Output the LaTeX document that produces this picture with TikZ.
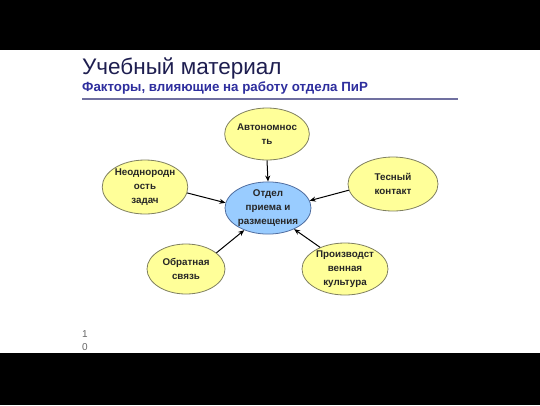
\documentclass[tikz,border=0pt]{standalone}
\usepackage{fontspec}
\setmainfont{Liberation Sans}
\usepackage{xcolor}
\usetikzlibrary{shapes.geometric,arrows.meta}

\definecolor{titlenavy}{RGB}{30,30,80}
\definecolor{subblue}{RGB}{46,46,158}
\definecolor{rulegray}{RGB}{112,112,160}
\definecolor{factorfill}{RGB}{255,255,153}
\definecolor{factorline}{RGB}{128,128,96}
\definecolor{centerfill}{RGB}{153,204,255}
\definecolor{centerline}{RGB}{80,110,160}

\tikzset{
  factor/.style={ellipse,draw=factorline,fill=factorfill,line width=0.8pt,inner sep=0pt,
    minimum width=82pt,minimum height=52pt,align=center,text=black!85,
    font=\fontsize{9.8}{14}\selectfont\bfseries},
  hub/.style={factor,draw=centerline,fill=centerfill,minimum width=86pt,minimum height=50pt},
  link/.style={line width=1pt,-{Stealth[length=6pt,width=5pt]}}
}

\begin{document}
\begin{tikzpicture}[x=1pt,y=-1pt]
        \useasboundingbox (0,0) rectangle (540,405);
        \fill[white] (0,0) rectangle (540,405);
        \fill[black] (0,0) rectangle (540,50);
        \fill[black] (0,353) rectangle (540,405);
        \node[anchor=base west,inner sep=0pt,text=titlenavy,font=\fontsize{22.5}{26}\selectfont] (title) at (82,74) {Учебный материал};
        \node[anchor=base west,inner sep=0pt,text=subblue,font=\fontsize{13.3}{15}\selectfont\bfseries] (subtitle) at (82,91) {Факторы, влияющие на работу отдела ПиР};
        \draw[rulegray,line width=1.5pt] (82,99) -- (458,99);
        \node[hub] (otdel) at (268,208) {Отдел\\приема и\\размещения};
        \node[factor] (avt) at (267,134) {Автономнос\\ть};
        \node[factor,minimum width=84pt,minimum height=54pt] (neod) at (145,187) {Неоднородн\\ость\\задач};
        \node[factor,minimum width=90pt,minimum height=54pt] (tesn) at (393,184) {Тесный\\контакт};
        \node[factor,minimum width=78pt,minimum height=50pt] (obr) at (186,269) {Обратная\\связь};
        \node[factor,minimum width=86pt,minimum height=52pt] (proizv) at (345,269) {Производст\\венная\\культура};
        \draw[link] (avt.south) -- (otdel.north);
        \draw[link] (neod.-8) -- (otdel.173);
        \draw[link] (tesn.188) -- (otdel.10);
        \draw[link] (obr.28) -- (otdel.223);
        \draw[link] (proizv.139) -- (otdel.-39);
        \node[align=center,inner sep=0pt,text=black!60,font=\fontsize{10}{13}\selectfont] (pagenum) at (85,341) {1\\0};
\end{tikzpicture}
\end{document}
